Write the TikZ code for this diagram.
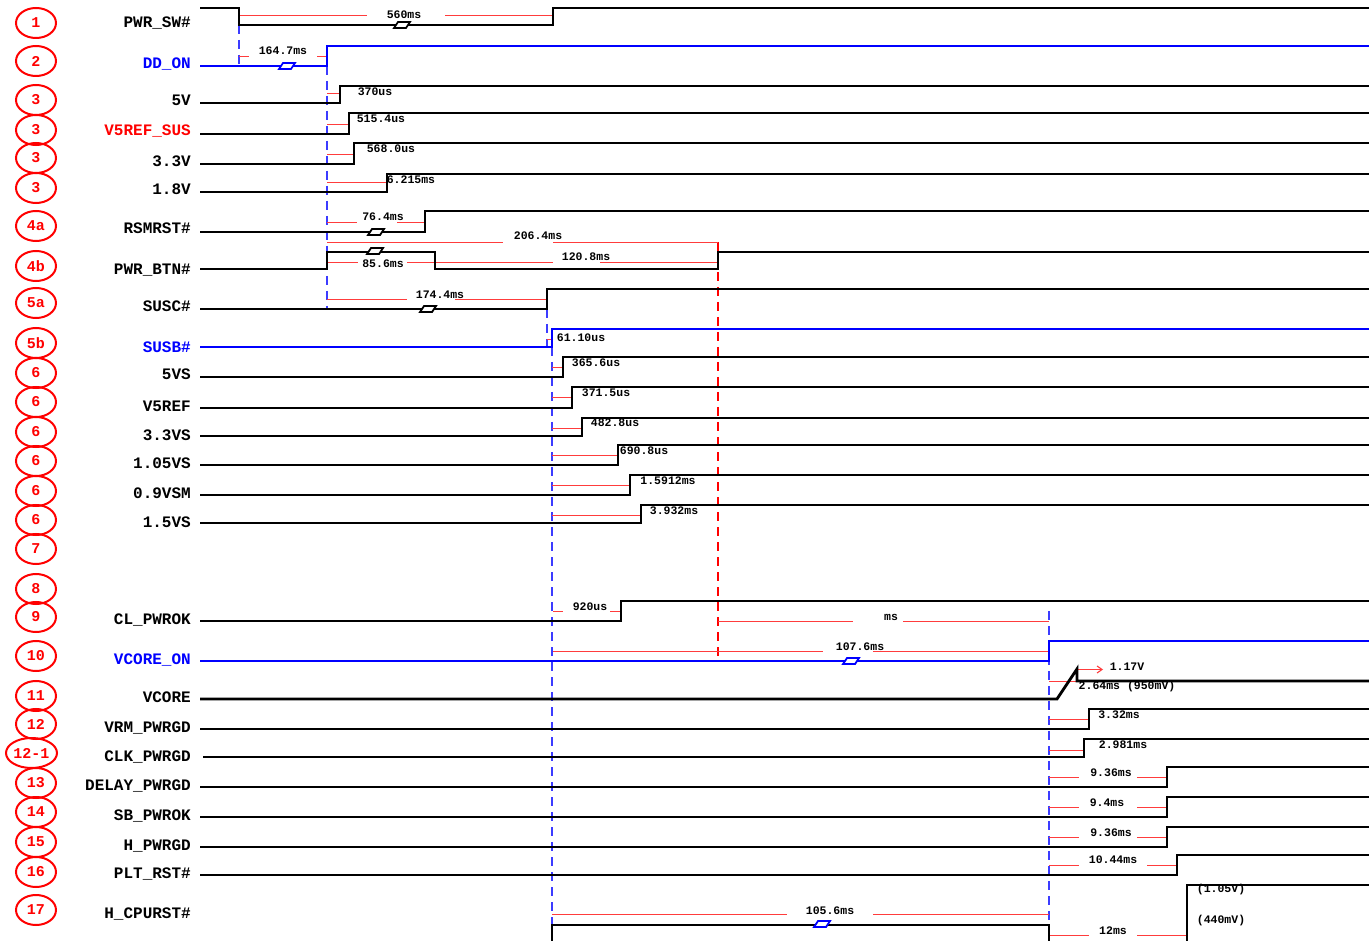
\documentclass[tikz,border=0pt]{standalone}
\usepackage{fontspec}
\newfontfamily\mono{Liberation Mono}
\usetikzlibrary{arrows.meta,shapes.geometric}
\definecolor{dimred}{RGB}{255,60,60}
\definecolor{dashblue}{RGB}{60,60,255}
\tikzset{
  sig/.style={line width=2.8pt, black, line join=miter},
  bsig/.style={line width=2.8pt, blue, line join=miter},
  dimln/.style={line width=1.1pt, dimred, yshift=-0.5pt},
  vdash/.style={line width=1.2pt, dashblue, dash pattern=on 9pt off 6pt},
  rdash/.style={line width=1.2pt, red, dash pattern=on 9pt off 6pt},
  lab/.style={anchor=base east, inner sep=0pt, font=\mono\bfseries\fontsize{16}{16}\selectfont},
  dt/.style={inner sep=0pt, anchor=center, font=\mono\bfseries\fontsize{11.5}{12}\selectfont},
  num/.style={ellipse, draw=red, line width=2pt, minimum width=40pt, minimum height=30pt, inner sep=0pt, text=red, font=\mono\bfseries\fontsize{15}{15}\selectfont},
  brkshape/.style={line width=1.8pt, fill=white}
}
\newcommand\brksym[3]{\draw[brkshape,draw=#1] (#2,#3) ++(-8,3) -- ++(4,-6) -- ++(12,0) -- ++(-4,6) -- cycle;}
\begin{document}
\begin{tikzpicture}[x=1pt,y=-1pt]
\useasboundingbox (0,0) rectangle (1369,941);
\fill[white] (0,0) rectangle (1369,941);

% ---- dashed reference lines
\draw[vdash] (239,25) -- (239,66);
\draw[vdash] (327,66) -- (327,310);
\draw[vdash] (547,309) -- (547,347);
\draw[vdash] (552,347) -- (552,941);
\draw[vdash] (1049,611) -- (1049,941);
\draw[rdash] (718,242) -- (718,661);

% ---- dimension lines
\draw[dimln] (239,15) -- (367,15) (445,15) -- (553,15);
\draw[dimln] (239,56) -- (249,56) (317,56) -- (327,56);
\draw[dimln] (327,93) -- (340,93);
\draw[dimln] (327,124) -- (349,124);
\draw[dimln] (327,154) -- (354,154);
\draw[dimln] (327,182) -- (387,182);
\draw[dimln] (327,222) -- (357,222) (397,222) -- (425,222);
\draw[dimln] (327,242) -- (503,242) (553,242) -- (718,242);
\draw[dimln] (327,262) -- (358,262) (407,262) -- (553,262) (600,262) -- (718,262);
\draw[dimln] (327,299) -- (407,299) (455,299) -- (547,299);
\draw[dimln] (547,339) -- (552,339);
\draw[dimln] (552,367) -- (563,367);
\draw[dimln] (552,397) -- (572,397);
\draw[dimln] (552,428) -- (582,428);
\draw[dimln] (552,455) -- (618,455);
\draw[dimln] (552,485) -- (630,485);
\draw[dimln] (552,515) -- (641,515);
\draw[dimln] (553,611) -- (563,611) (610,611) -- (621,611);
\draw[dimln] (718,621) -- (853,621) (903,621) -- (1049,621);
\draw[dimln] (553,651) -- (823,651) (873,651) -- (1049,651);
\draw[dimln] (1049,681) -- (1077,681);
\draw[dimln] (1049,719) -- (1089,719);
\draw[dimln] (1049,750) -- (1084,750);
\draw[dimln] (1049,777) -- (1079,777) (1137,777) -- (1167,777);
\draw[dimln] (1049,807) -- (1079,807) (1137,807) -- (1167,807);
\draw[dimln] (1049,837) -- (1079,837) (1137,837) -- (1167,837);
\draw[dimln] (1049,865) -- (1079,865) (1147,865) -- (1177,865);
\draw[dimln] (552,914) -- (787,914) (873,914) -- (1049,914);
\draw[dimln] (1049,935) -- (1089,935) (1137,935) -- (1187,935);
\draw[dimln, -{Straight Barb[length=5pt,width=7pt]}] (1077,669) -- (1103,669);

% ---- signals
\draw[sig] (200,8) -- (239,8) -- (239,25) -- (553,25) -- (553,8) -- (1369,8);
\draw[bsig] (200,66) -- (327,66) -- (327,46) -- (1369,46);
\draw[sig] (200,103) -- (340,103) -- (340,86) -- (1369,86);
\draw[sig] (200,134) -- (349,134) -- (349,113) -- (1369,113);
\draw[sig] (200,164) -- (354,164) -- (354,143) -- (1369,143);
\draw[sig] (200,192) -- (387,192) -- (387,174) -- (1369,174);
\draw[sig] (200,232) -- (425,232) -- (425,211) -- (1369,211);
\draw[sig] (200,269) -- (327,269) -- (327,252) -- (435,252) -- (435,269) -- (718,269) -- (718,252) -- (1369,252);
\draw[sig] (200,309) -- (547,309) -- (547,289) -- (1369,289);
\draw[bsig] (200,347) -- (552,347) -- (552,329) -- (1369,329);
\draw[sig] (200,377) -- (563,377) -- (563,357) -- (1369,357);
\draw[sig] (200,408) -- (572,408) -- (572,387) -- (1369,387);
\draw[sig] (200,436) -- (582,436) -- (582,418) -- (1369,418);
\draw[sig] (200,465) -- (618,465) -- (618,445) -- (1369,445);
\draw[sig] (200,495) -- (630,495) -- (630,475) -- (1369,475);
\draw[sig] (200,523) -- (641,523) -- (641,505) -- (1369,505);
\draw[sig] (200,621) -- (621,621) -- (621,601) -- (1369,601);
\draw[bsig] (200,661) -- (1049,661) -- (1049,641) -- (1369,641);
\draw[sig] (200,699) -- (1057,699) -- (1077,669) -- (1077,681) -- (1369,681);
\draw[sig] (200,729) -- (1089,729) -- (1089,709) -- (1369,709);
\draw[sig] (203,757) -- (1084,757) -- (1084,739) -- (1369,739);
\draw[sig] (200,787) -- (1167,787) -- (1167,767) -- (1369,767);
\draw[sig] (200,817) -- (1167,817) -- (1167,797) -- (1369,797);
\draw[sig] (200,847) -- (1167,847) -- (1167,827) -- (1369,827);
\draw[sig] (200,875) -- (1177,875) -- (1177,855) -- (1369,855);
\draw[sig] (552,945) -- (552,925) -- (1049,925) -- (1049,945);
\draw[sig] (1187,945) -- (1187,885) -- (1369,885);

% ---- break symbols
\brksym{black}{402}{25}
\brksym{blue}{287}{66}
\brksym{black}{376}{232}
\brksym{black}{375}{251}
\brksym{black}{428}{309}
\brksym{blue}{851}{661}
\brksym{blue}{822}{924}

% ---- timing texts
\node[dt] (t1) at (404,14.5) {560ms};
\node[dt] (t2) at (283,51) {164.7ms};
\node[dt] (t3) at (375,92) {370us};
\node[dt] (t4) at (381,119) {515.4us};
\node[dt] (t5) at (391,149) {568.0us};
\node[dt] (t6) at (411,180) {6.215ms};
\node[dt] (t7) at (383,217) {76.4ms};
\node[dt] (t8) at (538,236) {206.4ms};
\node[dt] (t9) at (383,264) {85.6ms};
\node[dt] (t10) at (586,257) {120.8ms};
\node[dt] (t11) at (440,295) {174.4ms};
\node[dt] (t12) at (581,338) {61.10us};
\node[dt] (t13) at (596,363) {365.6us};
\node[dt] (t14) at (606,393) {371.5us};
\node[dt] (t15) at (615,423) {482.8us};
\node[dt] (t16) at (644,451) {690.8us};
\node[dt] (t17) at (668,481) {1.5912ms};
\node[dt] (t18) at (674,511) {3.932ms};
\node[dt] (t19) at (590,607) {920us};
\node[dt] (t20) at (891,617.5) {ms};
\node[dt] (t21) at (860,647) {107.6ms};
\node[dt] (t22) at (1127,667) {1.17V};
\node[dt] (t23) at (1127,687) {2.64ms (950mV)};
\node[dt] (t24) at (1119,715) {3.32ms};
\node[dt] (t25) at (1123,745) {2.981ms};
\node[dt] (t26) at (1111,773) {9.36ms};
\node[dt] (t27) at (1107,803) {9.4ms};
\node[dt] (t28) at (1111,833) {9.36ms};
\node[dt] (t29) at (1113,860) {10.44ms};
\node[dt] (t30) at (830,911) {105.6ms};
\node[dt] (t31) at (1113,931) {12ms};
\node[dt] (t32) at (1221,890) {(1.05V)};
\node[dt] (t33) at (1221,921) {(440mV)};

% ---- signal names
\node[lab] (l1) at (191,28) {PWR\_SW\#};
\node[lab, text=blue] (l2) at (191,69) {DD\_ON};
\node[lab] (l3) at (191,106) {5V};
\node[lab, text=red] (l4) at (191,136) {V5REF\_SUS};
\node[lab] (l5) at (191,166.5) {3.3V};
\node[lab] (l6) at (191,195) {1.8V};
\node[lab] (l7) at (191,234) {RSMRST\#};
\node[lab] (l8) at (191,275) {PWR\_BTN\#};
\node[lab] (l9) at (191,312) {SUSC\#};
\node[lab, text=blue] (l10) at (191,353) {SUSB\#};
\node[lab] (l11) at (191,380) {5VS};
\node[lab] (l12) at (191,411) {V5REF};
\node[lab] (l13) at (191,440) {3.3VS};
\node[lab] (l14) at (191,468) {1.05VS};
\node[lab] (l15) at (191,498.5) {0.9VSM};
\node[lab] (l16) at (191,527.5) {1.5VS};
\node[lab] (l17) at (191,624) {CL\_PWROK};
\node[lab, text=blue] (l18) at (191,664) {VCORE\_ON};
\node[lab] (l19) at (191,702) {VCORE};
\node[lab] (l20) at (191,732) {VRM\_PWRGD};
\node[lab] (l21) at (191,761.5) {CLK\_PWRGD};
\node[lab] (l22) at (191,790) {DELAY\_PWRGD};
\node[lab] (l23) at (191,820) {SB\_PWROK};
\node[lab] (l24) at (191,850) {H\_PWRGD};
\node[lab] (l25) at (191,878) {PLT\_RST\#};
\node[lab] (l26) at (191,918) {H\_CPURST\#};

% ---- step numbers
\node[num] (n1) at (36,23) {1};
\node[num] (n2) at (36,61) {2};
\node[num] (n3a) at (36,100) {3};
\node[num] (n3b) at (36,130) {3};
\node[num] (n3c) at (36,158) {3};
\node[num] (n3d) at (36,188) {3};
\node[num] (n4a) at (36,226) {4a};
\node[num] (n4b) at (36,266) {4b};
\node[num] (n5a) at (36,303) {5a};
\node[num] (n5b) at (36,343) {5b};
\node[num] (n6a) at (36,373) {6};
\node[num] (n6b) at (36,402) {6};
\node[num] (n6c) at (36,432) {6};
\node[num] (n6d) at (36,461) {6};
\node[num] (n6e) at (36,491) {6};
\node[num] (n6f) at (36,520) {6};
\node[num] (n7) at (36,549) {7};
\node[num] (n8) at (36,589) {8};
\node[num] (n9) at (36,617) {9};
\node[num] (n10) at (36,656) {10};
\node[num] (n11) at (36,696) {11};
\node[num] (n12) at (36,724) {12};
\node[num, minimum width=51pt] (n121) at (31.5,753) {12-1};
\node[num] (n13) at (36,783) {13};
\node[num] (n14) at (36,812) {14};
\node[num] (n15) at (36,842) {15};
\node[num] (n16) at (36,872) {16};
\node[num] (n17) at (36,910) {17};
\end{tikzpicture}
\end{document}
